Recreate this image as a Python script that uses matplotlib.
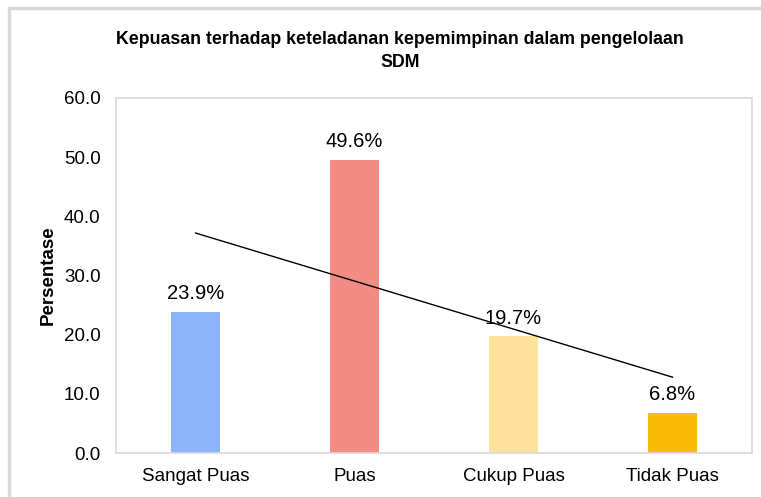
import matplotlib
matplotlib.use("Agg")
import matplotlib.pyplot as plt
import numpy as np
from matplotlib.patches import Rectangle

categories = ["Sangat Puas", "Puas", "Cukup Puas", "Tidak Puas"]
values = [23.9, 49.6, 19.7, 6.8]
labels = ["23.9%", "49.6%", "19.7%", "6.8%"]
colors = ["#8DB4FA", "#F28C84", "#FCE29B", "#F9BC06"]
yticks = [0, 10, 20, 30, 40, 50, 60]

plt.rcParams['font.family'] = ['Liberation Sans', 'DejaVu Sans']

W, H = 761, 497
fig = plt.figure(figsize=(W/100, H/100), dpi=100)
fig.patch.set_facecolor("white")

# outer chart border
fig.patches.append(Rectangle((9/W, -0.1), (W+20)/W, 1 - 8/H + 0.1,
                             transform=fig.transFigure, fill=False,
                             edgecolor="#D9D9D9", linewidth=2.5, zorder=0))

ax = fig.add_axes([116/W, 1 - 453/H, (752-116)/W, (453-98)/H])
x = np.arange(len(categories))
ax.bar(x, values, width=0.31, color=colors, zorder=2)
for xi, v, lab in zip(x, values, labels):
    ax.text(xi, v + 1.5, lab, ha="center", va="bottom", fontsize=14.5, color="#000000", zorder=4)

coef = np.polyfit(x, values, 1)
ax.plot([x[0], x[-1]], np.polyval(coef, [x[0], x[-1]]), color="black", linewidth=1, zorder=3)

ax.set_xlim(-0.5, len(categories) - 0.5)
ax.set_ylim(0, 60)
ax.set_yticks(yticks)
ax.set_yticklabels([f"{t:.1f}" for t in yticks], fontsize=13.5)
ax.set_xticks(x)
ax.set_xticklabels(categories, fontsize=13.5)
ax.tick_params(axis="y", length=0, pad=11)
ax.tick_params(axis="x", length=0, pad=11)
for s in ax.spines.values():
    s.set_color("#D9D9D9")
    s.set_linewidth(1.2)
ax.set_ylabel("Persentase", fontsize=13.5, fontweight="bold", labelpad=5)

fig.text(400/W, 1 - 51/H, "Kepuasan terhadap keteladanan kepemimpinan dalam pengelolaan\nSDM",
         ha="center", va="center", fontsize=12.8, fontweight="bold", linespacing=1.4)

fig.savefig("out.png", dpi=100)
